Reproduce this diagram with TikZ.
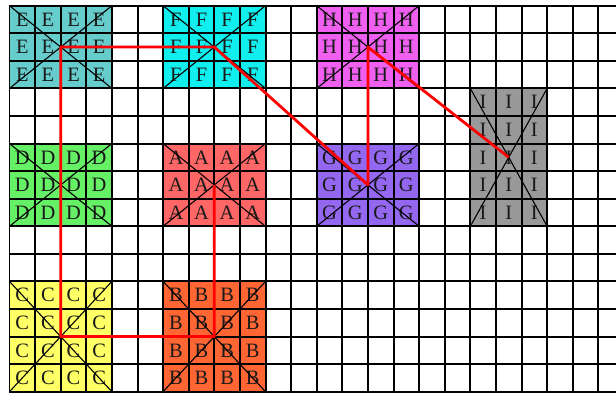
\documentclass[tikz,border=0pt]{standalone}
\usepackage{fontspec}
\setmainfont{Liberation Serif}
\usepackage{tikz}
\usetikzlibrary{positioning}

\definecolor{colA}{HTML}{FF6666}
\definecolor{colB}{HTML}{FF6633}
\definecolor{colC}{HTML}{FFFF66}
\definecolor{colD}{HTML}{66F066}
\definecolor{colE}{HTML}{66CCCC}
\definecolor{colF}{HTML}{11EEEE}
\definecolor{colG}{HTML}{9467F0}
\definecolor{colH}{HTML}{F060F0}
\definecolor{colI}{HTML}{999999}

\newlength{\cellw}\setlength{\cellw}{25.6bp}
\newlength{\cellh}\setlength{\cellh}{27.57bp}

\begin{document}
\begin{tikzpicture}[
  x=\cellw,
  y=-\cellh,
  blk/.style={
    draw=none,
    inner sep=0pt,
    outer sep=0pt
  },
  letter/.style={
    inner sep=0pt,
    font=\fontsize{20.5}{20.5}\selectfont,
    text=black!90
  },
  gridline/.style={line width=2pt, black},
  diag/.style={line width=1.1pt, black},
  route/.style={line width=2.8pt, red, line join=round}
]
  \useasboundingbox (-0.371,-0.207) rectangle (23.69,14.08);
  \clip (-0.371,-0.207) rectangle (23.69,14.08);

  % coloured blocks, one letter per cell
  \foreach \nm/\cx/\ry/\nw/\nh/\clr in {A/6/5/4/3/colA, B/6/10/4/4/colB,
      C/0/10/4/4/colC, D/0/5/4/3/colD, E/0/0/4/3/colE, F/6/0/4/3/colF,
      G/12/5/4/3/colG, H/12/0/4/3/colH, I/18/3/3/5/colI} {
    \node[blk, fill=\clr, minimum width=\nw*\cellw, minimum height=\nh*\cellh]
      (\nm) at (\cx+\nw/2, \ry+\nh/2) {};
    \foreach \i in {1,...,\nw}
      \foreach \j in {1,...,\nh}
        \node[letter] (\nm-\i-\j) at (\cx+\i-0.5, \ry+\j-0.5) {\nm};
  }

  % grid
  \foreach \i in {0,...,24}
    \draw[gridline] (\i,0) -- (\i,14);
  \foreach \j in {0,...,14}
    \draw[gridline] (0,\j) -- (24,\j);

  % crosses
  \foreach \nm in {A,B,C,D,E,F,G,H,I}
    \draw[diag] (\nm.north west) -- (\nm.south east)
                (\nm.north east) -- (\nm.south west);

  \draw[route] (A.center) -- (B.center) -- (C.center) -- (D.center)
    -- (E.center) -- (F.center) -- (G.center) -- (H.center) -- (I.center);
\end{tikzpicture}
\end{document}
